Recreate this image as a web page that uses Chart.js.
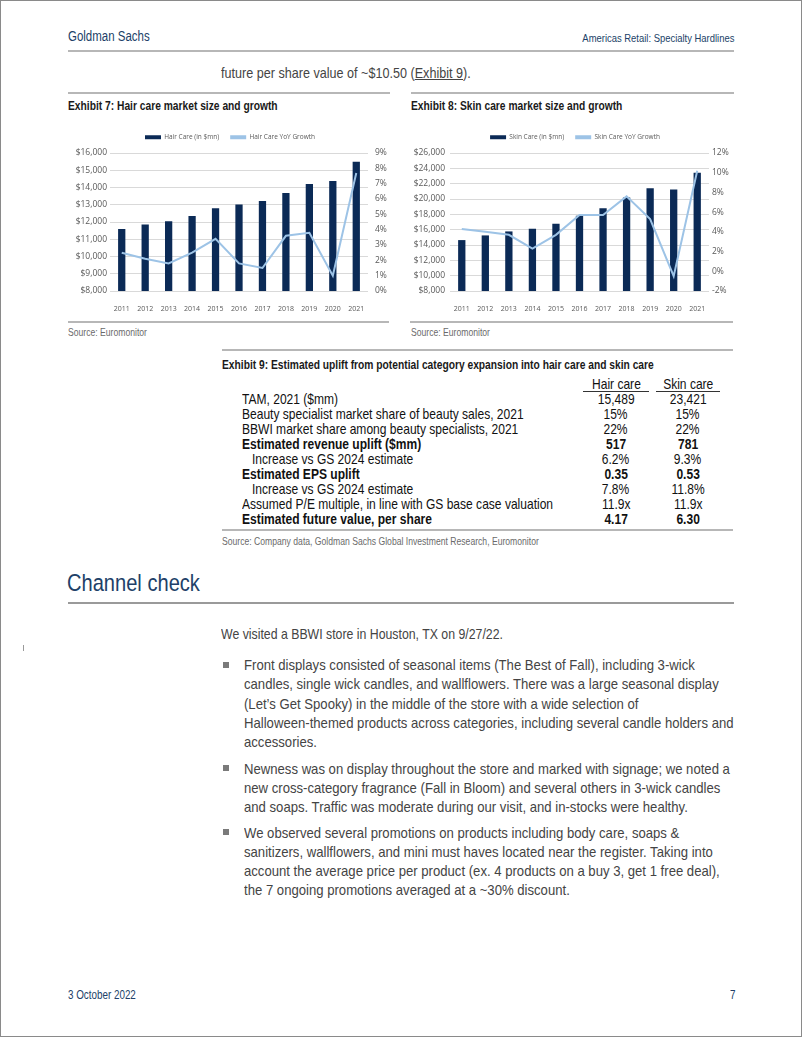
<!DOCTYPE html>
<html>
<head>
<meta charset="utf-8">
<script src="https://cdn.jsdelivr.net/npm/chart.js@4.4.0/dist/chart.umd.min.js"></script>
<style>
html, body { margin: 0; padding: 0; background: #fff; }
#page { position: relative; width: 802px; height: 1037px; overflow: hidden; font-family: "Liberation Sans", Arial, sans-serif; }
#frame { position: absolute; left: 0; top: 0; width: 800px; height: 1035px; border: 1px solid #8a8a8a; }
.t { position: absolute; white-space: nowrap; line-height: 1; transform: scaleX(0.82); transform-origin: 0 0; }
.t.r { transform-origin: 100% 0; }
.rule { position: absolute; height: 2px; background: #b7b7b7; }
.navy { color: #213f68; }
.ttl { font-weight: bold; font-size: 12.5px; color: #1a1a1a; }
.src { font-size: 10.5px; color: #6a6a6a; }
.body { font-size: 15px; color: #444; }
.box { position: absolute; }
.para { position: absolute; left: 244px; font-size: 15px; line-height: 19.25px; color: #444; white-space: nowrap; transform: scaleX(0.875); transform-origin: 0 0; }
.sq { position: absolute; left: 223px; width: 6px; height: 6px; background: #7a7a7a; }
.row { position: absolute; left: 242px; height: 15px; line-height: 15px; font-size: 14.5px; color: #111; white-space: nowrap; transform: scaleX(0.83); transform-origin: 0 0; }
.row.b { font-weight: bold; }
.row.ind { left: 252px; }
.c1, .c2 { position: absolute; font-size: 14.5px; line-height: 15px; text-align: center; color: #111; white-space: nowrap; }
.c1 { left: 583px; width: 66px; }
.c2 { left: 656px; width: 64px; }
.c1 span, .c2 span { display: inline-block; transform: scaleX(0.83); transform-origin: 50% 0; }
.hd { border-bottom: 1px solid #333; line-height: 14px; }
</style>
</head>
<body>
<div id="page">
  <div id="frame"></div>

  <div class="t navy" style="left:68px; top:29px; font-size:14px;">Goldman Sachs</div>
  <div class="t r navy" style="right:68px; top:33px; font-size:11.5px;">Americas Retail: Specialty Hardlines</div>
  <div class="rule" style="left:68px; top:50px; width:666px;"></div>

  <div class="t body" style="left:221px; top:65px; transform:scaleX(0.84);">future per share value of ~$10.50 (<span style="text-decoration:underline;">Exhibit 9</span>).</div>

  <div class="rule" style="left:68px; top:92px; width:322px;"></div>
  <div class="rule" style="left:411px; top:92px; width:323px;"></div>
  <div class="t ttl" style="left:68px; top:100px;">Exhibit 7: Hair care market size and growth</div>
  <div class="t ttl" style="left:411px; top:100px;">Exhibit 8: Skin care market size and growth</div>

  <div class="box" style="left:60px; top:123px; width:340px; height:192px;"><canvas id="hairChart"></canvas></div>
  <div class="box" style="left:410px; top:123px; width:330px; height:192px;"><canvas id="skinChart"></canvas></div>

  <div class="rule" style="left:68px; top:321px; width:321px;"></div>
  <div class="rule" style="left:410px; top:321px; width:323px;"></div>
  <div class="t src" style="left:68px; top:327px;">Source: Euromonitor</div>
  <div class="t src" style="left:411px; top:327px;">Source: Euromonitor</div>

  <div class="rule" style="left:222px; top:349px; width:511px;"></div>
  <div class="t ttl" style="left:222px; top:359px;">Exhibit 9: Estimated uplift from potential category expansion into hair care and skin care</div>

  <div id="tbl"></div>

  <div class="rule" style="left:222px; top:529px; width:511px;"></div>
  <div class="t src" style="left:222px; top:536px;">Source: Company data, Goldman Sachs Global Investment Research, Euromonitor</div>

  <div class="t navy" style="left:67px; top:571px; font-size:24.5px;">Channel check</div>
  <div class="rule" style="left:68px; top:602px; width:666px; background:#9a9a9a;"></div>

  <div class="t body" style="left:221px; top:626px;">We visited a BBWI store in Houston, TX on 9/27/22.</div>
  <div style="position:absolute; left:23px; top:645px; width:1px; height:6px; background:#9a9a9a;"></div>

  <div class="sq" style="top:662px;"></div>
  <div class="para" style="top:655px;">Front displays consisted of seasonal items (The Best of Fall), including 3-wick<br>candles, single wick candles, and wallflowers. There was a large seasonal display<br>(Let’s Get Spooky) in the middle of the store with a wide selection of<br>Halloween-themed products across categories, including several candle holders and<br>accessories.</div>
  <div class="sq" style="top:765px;"></div>
  <div class="para" style="top:758.5px;">Newness was on display throughout the store and marked with signage; we noted a<br>new cross-category fragrance (Fall in Bloom) and several others in 3-wick candles<br>and soaps. Traffic was moderate during our visit, and in-stocks were healthy.</div>
  <div class="sq" style="top:829px;"></div>
  <div class="para" style="top:822.5px;">We observed several promotions on products including body care, soaps &amp;<br>sanitizers, wallflowers, and mini must haves located near the register. Taking into<br>account the average price per product (ex. 4 products on a buy 3, get 1 free deal),<br>the 7 ongoing promotions averaged at a ~30% discount.</div>

  <div class="t navy" style="left:68px; top:989px; font-size:12px;">3 October 2022</div>
  <div class="t navy" style="left:730px; top:989px; font-size:12px;">7</div>
</div>

<script>
const years = ["2011", "2012", "2013", "2014", "2015", "2016", "2017", "2018", "2019", "2020", "2021"];
const hairSales = [11600, 11850, 12050, 12350, 12790, 13020, 13220, 13680, 14200, 14380, 15489];
const hairGrowth = [2.5, 2.1, 1.8, 2.5, 3.4, 1.8, 1.5, 3.6, 3.8, 1.0, 7.7];
const skinSales = [14640, 15250, 15770, 16120, 16780, 17830, 18790, 20180, 21410, 21230, 23421];
const skinGrowth = [4.3, 4.0, 3.7, 2.3, 3.7, 5.7, 5.7, 7.6, 5.3, -0.5, 10.2];

const hairSalesTicks = [8000, 9000, 10000, 11000, 12000, 13000, 14000, 15000, 16000];
const hairGrowthTicks = [0, 1, 2, 3, 4, 5, 6, 7, 8, 9];
const skinSalesTicks = [8000, 10000, 12000, 14000, 16000, 18000, 20000, 22000, 24000, 26000];
const skinGrowthTicks = [-2, 0, 2, 4, 6, 8, 10, 12];

// exhibit 9 table
const tableHeads = ["Hair care", "Skin care"];
const tableRows = [
  ["TAM, 2021 ($mm)", "15,489", "23,421", ""],
  ["Beauty specialist market share of beauty sales, 2021", "15%", "15%", ""],
  ["BBWI market share among beauty specialists, 2021", "22%", "22%", ""],
  ["Estimated revenue uplift ($mm)", "517", "781", "b"],
  ["Increase vs GS 2024 estimate", "6.2%", "9.3%", "ind"],
  ["Estimated EPS uplift", "0.35", "0.53", "b"],
  ["Increase vs GS 2024 estimate", "7.8%", "11.8%", "ind"],
  ["Assumed P/E multiple, in line with GS base case valuation", "11.9x", "11.9x", ""],
  ["Estimated future value, per share", "4.17", "6.30", "b"],
];

const navy = "#0b2a56";
const lightBlue = "#9dc3e6";
const tickColor = "#595959";
const gridColor = "#d9d9d9";

// table
const tbl = document.getElementById("tbl");
let html = "";
const top0 = 376.5, rowH = 15.1;
html += `<div class="c1 hd" style="top:${top0}px;"><span>${tableHeads[0]}</span></div>`;
html += `<div class="c2 hd" style="top:${top0}px;"><span>${tableHeads[1]}</span></div>`;
tableRows.forEach((r, i) => {
  const y = top0 + rowH * (i + 1);
  const bold = r[3] === "b" ? "font-weight:bold;" : "";
  html += `<div class="row ${r[3]}" style="top:${y}px;">${r[0]}</div>`;
  html += `<div class="c1" style="top:${y}px;${bold}"><span>${r[1]}</span></div>`;
  html += `<div class="c2" style="top:${y}px;${bold}"><span>${r[2]}</span></div>`;
});
tbl.innerHTML = html;

function setWidth(w) { return s => { s.width = w; }; }
function setHeight(h) { return s => { s.height = h; }; }

function legendHeight(h) {
  return {
    id: "legendHeight",
    beforeInit(chart) {
      const fit = chart.legend.fit;
      chart.legend.fit = function () { fit.call(this); this.height = h; };
    }
  };
}

function makeChart(id, cats, sales, growth, salesLabel, growthLabel, salesTicks, growthTicks, dims) {
  return new Chart(document.getElementById(id), {
    type: "bar",
    data: {
      labels: cats,
      datasets: [
        {
          label: salesLabel,
          data: sales,
          backgroundColor: navy,
          yAxisID: "y",
          categoryPercentage: 1,
          barPercentage: 0.31,
          order: 1
        },
        {
          type: "line",
          label: growthLabel,
          data: growth,
          borderColor: lightBlue,
          backgroundColor: lightBlue,
          borderWidth: 2,
          pointRadius: 0,
          tension: 0,
          yAxisID: "y1",
          order: 0
        }
      ]
    },
    options: {
      responsive: true,
      maintainAspectRatio: false,
      animation: false,
      devicePixelRatio: 1,
      layout: { padding: 0 },
      plugins: {
        tooltip: { enabled: false },
        legend: {
          position: "top",
          labels: {
            boxWidth: 16,
            boxHeight: 4,
            padding: 11,
            color: tickColor,
            font: { family: "Open Sans", size: 6.5 },
            sort: (a, b) => a.datasetIndex - b.datasetIndex,
            generateLabels(chart) {
              return Chart.defaults.plugins.legend.labels.generateLabels(chart).map(l => ({ ...l, lineWidth: 0 }));
            }
          }
        }
      },
      scales: {
        x: {
          grid: { display: false },
          border: { display: false },
          ticks: { color: tickColor, padding: 6, font: { family: "Open Sans", size: 7 } },
          afterFit: setHeight(dims.xh)
        },
        y: {
          position: "left",
          min: salesTicks[0],
          max: salesTicks[salesTicks.length - 1],
          grid: { color: gridColor, drawTicks: false },
          border: { display: false },
          ticks: {
            stepSize: salesTicks[1] - salesTicks[0],
            color: tickColor,
            padding: dims.lp,
            font: { family: "Open Sans", size: 8.5 },
            callback: v => "$" + v.toLocaleString("en-US")
          },
          afterFit: setWidth(dims.lw)
        },
        y1: {
          position: "right",
          min: growthTicks[0],
          max: growthTicks[growthTicks.length - 1],
          grid: { display: false, drawTicks: false },
          border: { display: false },
          ticks: {
            stepSize: growthTicks[1] - growthTicks[0],
            color: tickColor,
            padding: dims.rp,
            font: { family: "Open Sans", size: 8.5 },
            callback: v => v + "%"
          },
          afterFit: setWidth(dims.rw)
        }
      }
    },
    plugins: [legendHeight(30)]
  });
}

makeChart("hairChart", years, hairSales, hairGrowth, "Hair Care (in $mn)", "Hair Care YoY Growth",
  hairSalesTicks, hairGrowthTicks, { lw: 50, rw: 32, xh: 24, lp: 3, rp: 7 });
makeChart("skinChart", years, skinSales, skinGrowth, "Skin Care (in $mn)", "Skin Care YoY Growth",
  skinSalesTicks, skinGrowthTicks, { lw: 40, rw: 31, xh: 24, lp: 5, rp: 3 });
</script>
</body>
</html>
